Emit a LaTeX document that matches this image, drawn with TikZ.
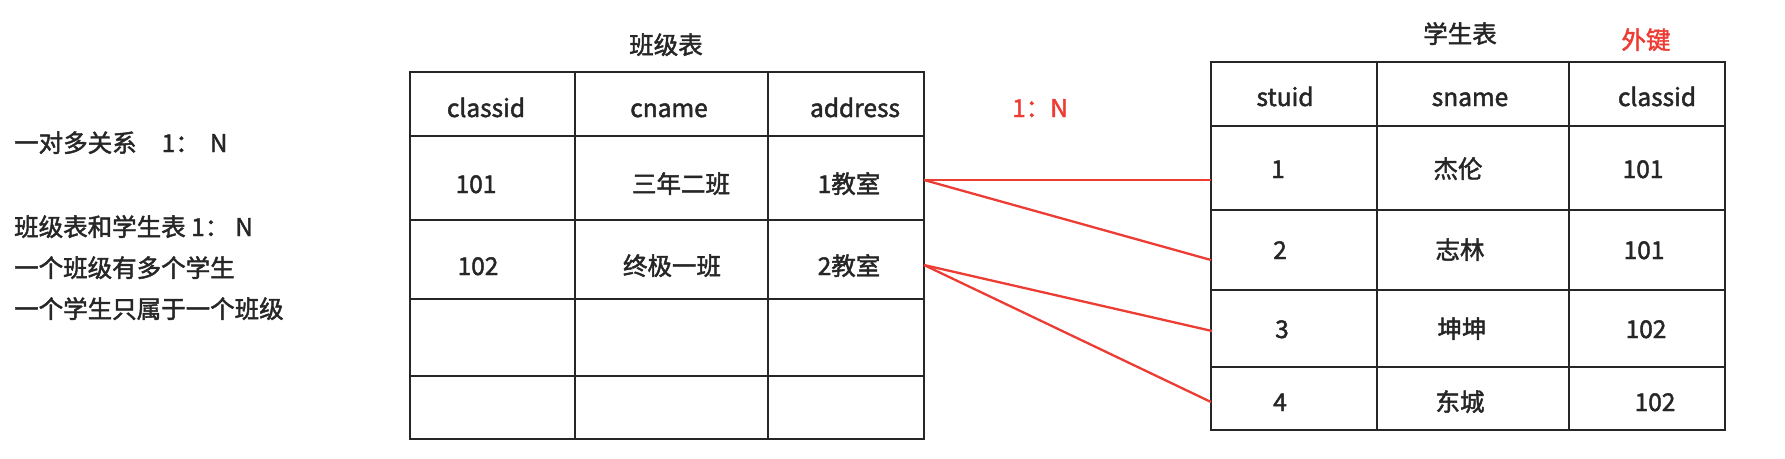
\documentclass[tikz,border=0pt]{standalone}
\usepackage{fontspec}
\setmainfont{Noto Sans CJK SC}[FakeBold=1.8]
\usepackage{xcolor}
\usetikzlibrary{positioning}
\usetikzlibrary{calc}

\definecolor{fkred}{RGB}{236,60,52}
\newcommand{\cellfont}{\fontsize{24.5}{29}\selectfont}

\tikzset{
	tbl/.style={line width=2.5pt, black!85},
	link/.style={line width=2.3pt, fkred},
	cell/.style={inner sep=0pt, text height=20pt, text depth=4pt, font=\cellfont, text=black!85},
}

\begin{document}
\begin{tikzpicture}[x=1pt,y=-1pt]
				\path[fill=white, use as bounding box] (0,0) rectangle (1785,458);
				
				% notes on the left
				\node[cell, anchor=west] (n1) at (14,144) {一对多关系\hspace{25pt}1：\hspace{10pt}N};
				\node[cell, anchor=west] (n2) at (14,228) {班级表和学生表 1：\hspace{6pt}N};
				\node[cell, anchor=west] (n3) at (14,269) {一个班级有多个学生};
				\node[cell, anchor=west] (n4) at (14,310) {一个学生只属于一个班级};
				
				% class table
				\node[cell] (ctitle) at (666,46) {班级表};
				\draw[tbl] (410,72) rectangle (924,439);
				\foreach \y in {136,220,299,376} \draw[tbl] (410,\y) -- (924,\y);
				\foreach \x in {575,768} \draw[tbl] (\x,72) -- (\x,439);
				\node[cell] (cid) at (486,109) {classid};
				\node[cell] (cname) at (669,109) {cname};
				\node[cell] (caddr) at (855,109) {address};
				\node[cell] (cid1) at (476,185) {101};
				\node[cell] (cname1) at (681,185) {三年二班};
				\node[cell] (caddr1) at (849,185) {1教室};
				\node[cell] (cid2) at (478,267) {102};
				\node[cell] (cname2) at (672,267) {终极一班};
				\node[cell] (caddr2) at (849,267) {2教室};
				
				% student table
				\node[cell] (stitle) at (1460,35) {学生表};
				\node[cell, text=fkred] (fk) at (1646,41) {外键};
				\draw[tbl] (1211,62) rectangle (1725,430);
				\foreach \y in {126,210,290,367} \draw[tbl] (1211,\y) -- (1725,\y);
				\foreach \x in {1377,1569} \draw[tbl] (\x,62) -- (\x,430);
				\node[cell] (sid) at (1285,98) {stuid};
				\node[cell] (sname) at (1470,98) {sname};
				\node[cell] (scid) at (1657,98) {classid};
				\node[cell] (sid1) at (1278,170) {1};
				\node[cell] (sname1) at (1458,170) {杰伦};
				\node[cell] (scid1) at (1643,170) {101};
				\node[cell] (sid2) at (1280,251) {2};
				\node[cell] (sname2) at (1460,251) {志林};
				\node[cell] (scid2) at (1644,251) {101};
				\node[cell] (sid3) at (1282,330) {3};
				\node[cell] (sname3) at (1462,330) {坤坤};
				\node[cell] (scid3) at (1646,330) {102};
				\node[cell] (sid4) at (1280,403) {4};
				\node[cell] (sname4) at (1460,403) {东城};
				\node[cell] (scid4) at (1655,403) {102};
				
				% 1:N links
				\node[cell, text=fkred] (ratio) at (1040,109) {1：N};
				\coordinate (c1) at (924,180);
				\coordinate (c2) at (924,265);
				\coordinate (s1) at (1211,180);
				\coordinate (s2) at (1211,260);
				\coordinate (s3) at (1212,331);
				\coordinate (s4) at (1211,402);
				\draw[link] (c1) -- (s1);
				\draw[link] (c1) -- (s2);
				\draw[link] (c2) -- (s3);
				\draw[link] (c2) -- (s4);
			\end{tikzpicture}
\end{document}
